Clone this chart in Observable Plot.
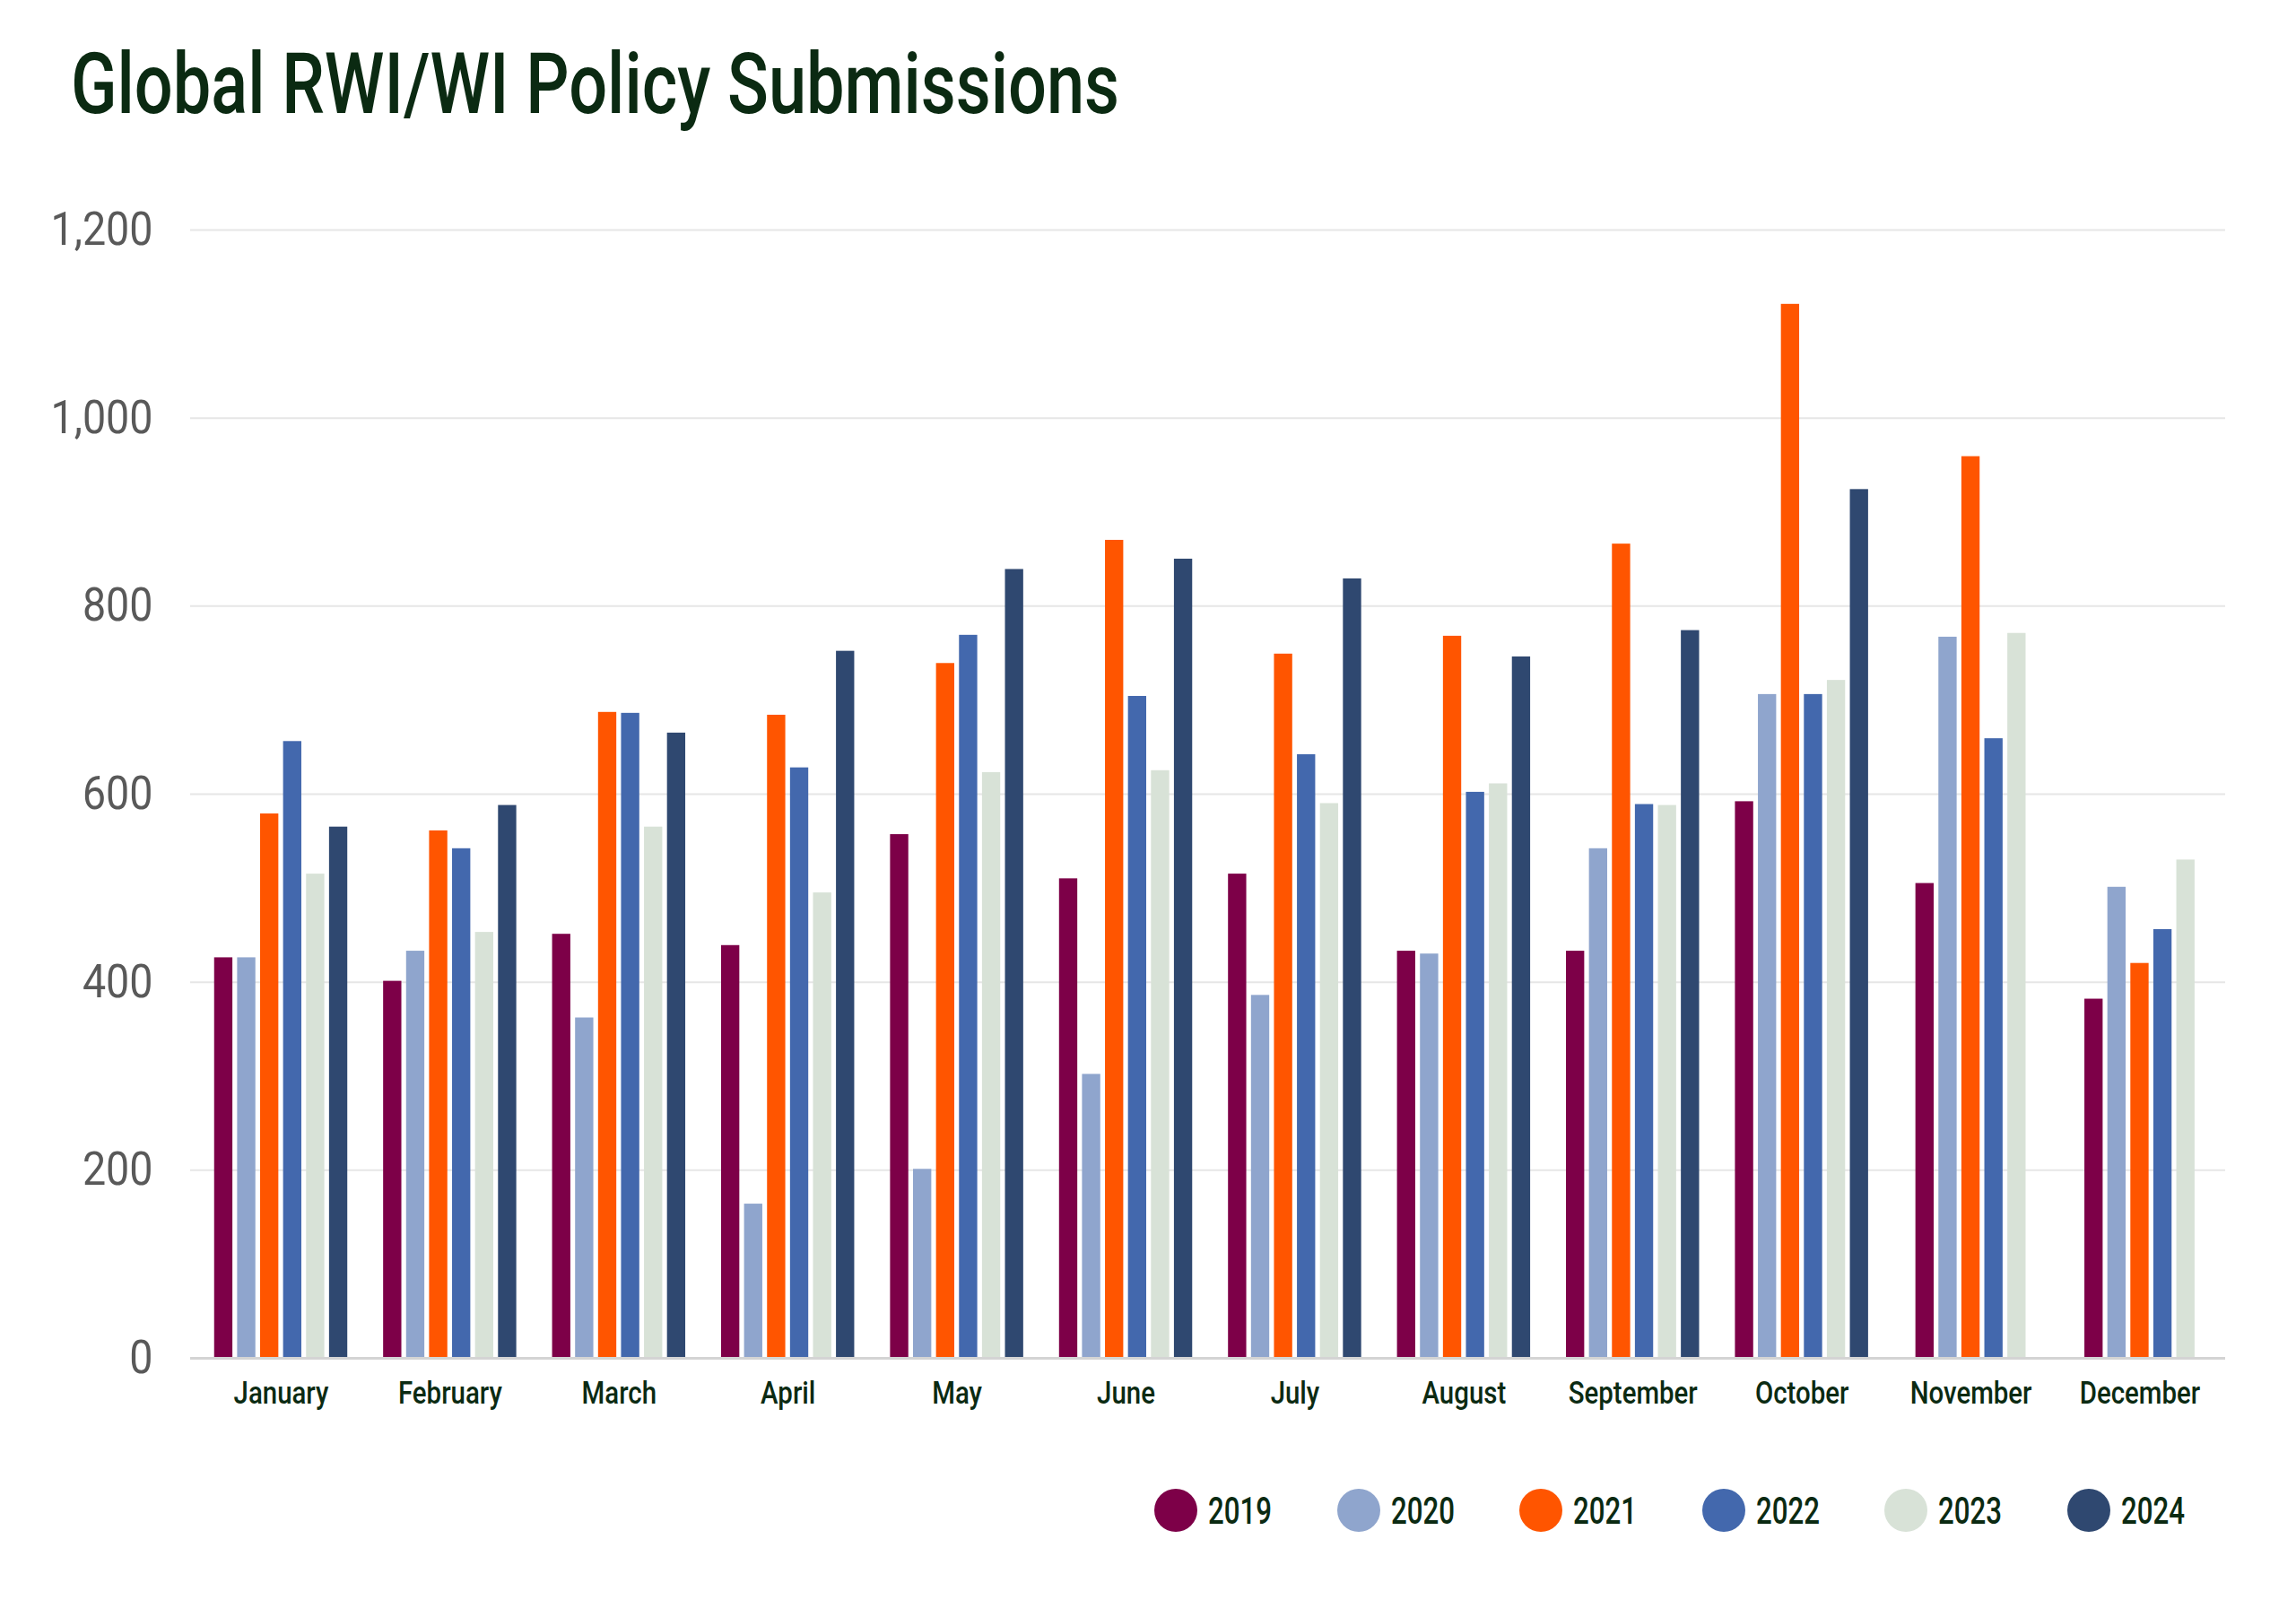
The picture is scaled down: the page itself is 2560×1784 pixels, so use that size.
<!DOCTYPE html>
<html>
<head>
<meta charset="utf-8">
<script src="https://cdn.jsdelivr.net/npm/d3@7"></script>
<script src="https://cdn.jsdelivr.net/npm/@observablehq/plot@0.6"></script>
<style>
  html, body { margin: 0; padding: 0; background: #fff; }
  body { width: 2560px; height: 1784px; overflow: hidden; font-family: Roboto, 'Noto Sans', sans-serif; }
  #title { height: 180px; position: relative; }
  #title h1 { position: absolute; left: 79px; top: 47px; margin: 0; font-size: 94px; font-weight: 500; color: #0b2a12; line-height: 1; white-space: nowrap; transform-origin: left center; }
  #chart svg { display: block; }
  #legend { height: 164px; position: relative; }
  .item { position: absolute; top: 40px; display: flex; align-items: center; height: 48px; }
  .dot { width: 48px; height: 48px; border-radius: 50%; margin-right: 12px; flex: none; }
  .lab { font-size: 43px; font-weight: 500; color: #0b2a12; line-height: 1; transform-origin: left center; white-space: nowrap; }
</style>
</head>
<body>
<div id="title"><h1 id="h1">Global RWI/WI Policy Submissions</h1></div>
<div id="chart"></div>
<div id="legend"></div>
<script>
const months = ["January","February","March","April","May","June","July","August","September","October","November","December"];
const years = ["2019","2020","2021","2022","2023","2024"];
const v2019 = [426,401,451,439,557,510,515,433,433,592,505,382];
const v2020 = [426,433,362,164,201,302,386,430,542,706,767,501];
const v2021 = [579,561,687,684,739,870,749,768,866,1121,959,420];
const v2022 = [656,542,686,628,769,704,642,602,589,706,659,456];
const v2023 = [515,453,565,495,623,625,590,611,588,721,771,530];
const v2024 = [565,588,665,752,839,850,829,746,774,924,null,null];
const yTicks = [0,200,400,600,800,1000,1200];
const colors = ["#7d0048","#8fa5cd","#ff5500","#4368ad","#d8e2d7","#2f4870"];

const series = [v2019, v2020, v2021, v2022, v2023, v2024];
const slot = 0.136, barW = 0.108;
const rows = [];
months.forEach((m, i) => {
  const present = years.map((y, j) => ({year: y, value: series[j][i]})).filter(d => d.value != null);
  const n = present.length;
  present.forEach((d, k) => {
    const c = i + (k - (n - 1) / 2) * slot;
    rows.push({month: m, year: d.year, value: d.value, x1: c - barW / 2, x2: c + barW / 2});
  });
});

const font = "Roboto, 'Noto Sans', sans-serif";
const chart = Plot.plot({
  width: 2560,
  height: 1440,
  marginTop: 76,
  marginBottom: 106,
  marginLeft: 212,
  marginRight: 79,
  style: {fontFamily: font, background: "#fff"},
  x: {type: "linear", domain: [-0.536, 11.507]},
  y: {domain: [0, 1200]},
  color: {domain: years, range: colors},
  marks: [
    Plot.gridY(yTicks, {stroke: "#e6e6e6", strokeOpacity: 1, strokeWidth: 2}),
    Plot.axisY(yTicks, {tickSize: 0, tickPadding: 42, fontSize: 52, fill: "#595959", tickFormat: d3.format(","), label: null}),
    Plot.rectY(rows, {x1: "x1", x2: "x2", y: "value", fill: "year"}),
    Plot.ruleY([0], {stroke: "#d4d4d4", strokeWidth: 3}),
    Plot.axisX(d3.range(months.length), {tickSize: 0, tickPadding: 26, fontSize: 35, fontWeight: 500, fill: "#0b2a12", tickFormat: i => months[i], label: null})
  ]
});
document.getElementById("chart").append(chart);

// condense text horizontally to match the narrow typeface of the reference
function condense(nodes, refText, targetW) {
  if (!nodes.length) return;
  const ref = nodes.find(n => n.textContent === refText) || nodes[0];
  const k = targetW / ref.getBBox().width;
  nodes.forEach(n => {
    const t = n.getAttribute("transform") || "";
    n.setAttribute("transform", `${t} scale(${k},1)`);
  });
}
const yTexts = Array.from(chart.querySelectorAll('g[aria-label="y-axis tick label"] text'));
const xTexts = Array.from(chart.querySelectorAll('g[aria-label="x-axis tick label"] text'));
condense(yTexts, "1,200", 114);
condense(xTexts, "September", 144);

const h1 = document.getElementById("h1");
h1.style.transform = `scaleX(${1169 / h1.getBoundingClientRect().width})`;

const legend = document.getElementById("legend");
years.forEach((y, j) => {
  const it = document.createElement("div");
  it.className = "item";
  it.style.left = (1287 + j * 203.5) + "px";
  it.innerHTML = `<div class="dot" style="background:${colors[j]}"></div><div class="lab">${y}</div>`;
  legend.append(it);
});
legend.querySelectorAll(".lab").forEach(l => {
  l.style.transform = `scaleX(${71 / l.getBoundingClientRect().width})`;
});
</script>
</body>
</html>
